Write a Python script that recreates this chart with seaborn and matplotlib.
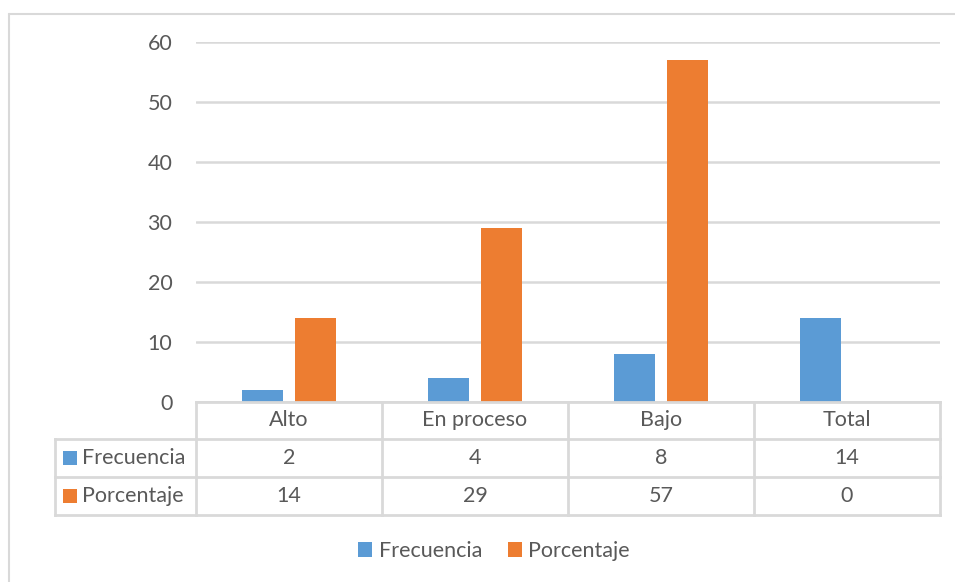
import matplotlib
matplotlib.use("Agg")
import matplotlib.pyplot as plt
from matplotlib.patches import Rectangle
from matplotlib.lines import Line2D
from matplotlib.transforms import blended_transform_factory
import pandas as pd
import seaborn as sns

categories = ["Alto", "En proceso", "Bajo", "Total"]
series_names = ["Frecuencia", "Porcentaje"]
frecuencia = [2, 4, 8, 14]
porcentaje = [14, 29, 57, 0]
y_ticks = [0, 10, 20, 30, 40, 50, 60]

colors = {"Frecuencia": "#5B9BD5", "Porcentaje": "#ED7D31"}
text_color = "#595959"
line_color = "#D9D9D9"
font = "Lato"
fs = 15.5

df = pd.DataFrame({
    "categoria": categories * 2,
    "serie": [series_names[0]] * len(categories) + [series_names[1]] * len(categories),
    "valor": frecuencia + porcentaje,
})

sns.set_theme(style="white")
plt.rcParams["font.family"] = [font, "DejaVu Sans"]

W, H = 955, 582
fig = plt.figure(figsize=(W / 100, H / 100), dpi=100)

def fx(px):
    return px / W

def fy(py):
    return 1 - py / H

# plot area
left, right, top, bottom = 196, 940, 42, 402
ax = fig.add_axes([fx(left), fy(bottom), fx(right - left), (bottom - top) / H])

sns.barplot(data=df, x="categoria", y="valor", hue="serie", order=categories,
            hue_order=series_names, palette=colors, width=0.57, gap=0.23,
            saturation=1, ax=ax, legend=False, edgecolor="none")

ax.set_xlim(-0.5, len(categories) - 0.5)
ax.set_ylim(0, 60)
ax.set_yticks(y_ticks)
ax.set_yticklabels([str(t) for t in y_ticks], fontsize=fs, color=text_color)
ax.tick_params(axis="y", length=0, pad=17)
ax.set_xticks([])
ax.set_xlabel("")
ax.set_ylabel("")
for s in ax.spines.values():
    s.set_visible(False)
ax.yaxis.grid(True, color=line_color, linewidth=1.8)
ax.set_axisbelow(True)

# data table below the plot area
tr = blended_transform_factory(ax.transData, fig.transFigure)
row_edges = [402, 439, 477, 515]
cat_w_px = (right - left) / len(categories)
label_left = -0.5 - (left - 55) / cat_w_px
x_end = len(categories) - 0.5
lw = 2.0

def hline(x0, x1, py):
    fig.add_artist(Line2D([x0, x1], [fy(py), fy(py)], transform=tr,
                          color=line_color, lw=lw, solid_capstyle="projecting"))

def vline(x, py0, py1):
    fig.add_artist(Line2D([x, x], [fy(py0), fy(py1)], transform=tr,
                          color=line_color, lw=lw, solid_capstyle="projecting"))

hline(-0.5, x_end, row_edges[0])
for py in row_edges[1:]:
    hline(label_left, x_end, py)
for i in range(len(categories) + 1):
    vline(i - 0.5, row_edges[0], row_edges[-1])
vline(label_left, row_edges[1], row_edges[-1])

def row_mid(i):
    return fy((row_edges[i] + row_edges[i + 1]) / 2)

for i, c in enumerate(categories):
    fig.text(i, row_mid(0), c, transform=tr, ha="center", va="center",
             fontsize=fs, color=text_color)
    fig.text(i, row_mid(1), str(frecuencia[i]), transform=tr, ha="center",
             va="center", fontsize=fs, color=text_color)
    fig.text(i, row_mid(2), str(porcentaje[i]), transform=tr, ha="center",
             va="center", fontsize=fs, color=text_color)

sq = 14
for r, name in enumerate(series_names, start=1):
    yc = (row_edges[r] + row_edges[r + 1]) / 2
    fig.add_artist(Rectangle((fx(63), fy(yc + sq / 2)), fx(sq), sq / H,
                             transform=fig.transFigure, color=colors[name], lw=0))
    fig.text(fx(82), fy(yc), name, ha="left", va="center", fontsize=fs,
             color=text_color)

# legend
handles = [Rectangle((0, 0), 1, 1, color=colors[n], lw=0) for n in series_names]
fig.legend(handles, series_names, loc="center", bbox_to_anchor=(fx(494), fy(551)),
           ncol=2, frameon=False, fontsize=fs, labelcolor=text_color,
           handlelength=0.65, handleheight=0.65, handletextpad=0.3,
           columnspacing=1.2)

# chart border
fig.add_artist(Line2D([fx(9), fx(9)], [fy(14), 0], transform=fig.transFigure,
                      color=line_color, lw=1.5))
fig.add_artist(Line2D([fx(9), 1], [fy(14), fy(14)], transform=fig.transFigure,
                      color=line_color, lw=1.5))

fig.savefig("out.png", dpi=100, facecolor="white")
